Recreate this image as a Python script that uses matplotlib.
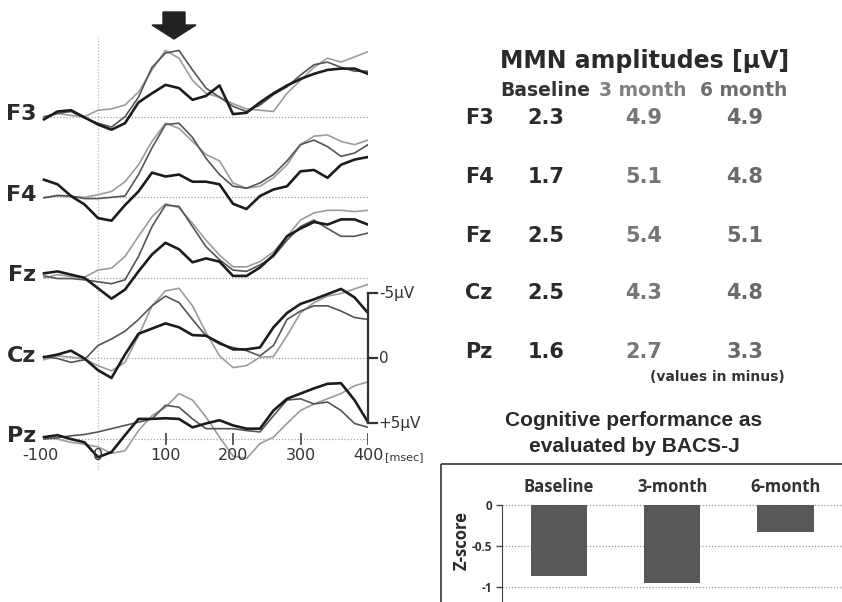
import matplotlib
matplotlib.use("Agg")
import matplotlib.pyplot as plt
from matplotlib.patches import Polygon, Rectangle
from matplotlib.transforms import Affine2D

W, H = 842, 602

# sample times of the averaged waveforms (ms)
times = [-80, -60, -40, -20, 0, 20, 40, 60, 80, 100, 120, 140, 160,
         180, 200, 220, 240, 260, 280, 300, 320, 340, 360, 380, 400]
channels = ["F3", "F4", "Fz", "Cz", "Pz"]

# difference waveforms in µV (negative = MMN, drawn upward)
f3_base = [0.2, -0.4, -0.5, 0.05, 0.6, 1.0, 0.5, -1.1, -1.8, -2.45, -2.2, -1.3, -1.6,
           -2.4, -0.2, -0.3, -1.1, -1.8, -2.4, -2.9, -3.3, -3.6, -3.7, -3.7, -3.3]
f3_m3 = [0.1, -0.25, -0.1, 0.0, -0.5, -0.6, -0.9, -1.9, -3.6, -5.1, -4.5, -2.8, -1.8,
         -1.5, -1.0, -0.6, -0.5, -0.4, -1.8, -2.8, -3.8, -4.5, -4.2, -4.6, -5.0]
f3_m6 = [0.0, -0.25, -0.4, 0.1, 0.5, 0.8, 0.0, -1.5, -3.8, -4.9, -5.1, -3.6, -2.2,
         -1.5, -0.8, -0.4, -0.9, -1.7, -2.3, -3.2, -4.0, -4.2, -3.8, -3.5, -3.5]

f4_base = [-1.35, -1.0, -0.1, 0.55, 1.6, 1.8, 0.6, -0.45, -1.9, -1.6, -1.75, -1.2, -1.2,
           -1.0, 0.5, 0.9, -0.1, -0.6, -0.85, -2.0, -2.1, -1.5, -2.5, -2.9, -3.1]
f4_m3 = [0.0, -0.1, -0.05, 0.0, -0.2, -0.45, -1.2, -2.5, -4.3, -5.7, -5.3, -4.3, -3.3,
         -2.8, -1.1, -0.7, -0.85, -1.5, -2.5, -4.05, -4.7, -4.8, -4.3, -4.05, -4.4]
f4_m6 = [0.05, -0.15, -0.1, 0.1, 0.1, 0.0, -0.1, -1.75, -3.8, -5.6, -5.7, -4.6, -3.0,
         -1.75, -0.85, -0.7, -1.1, -1.75, -2.8, -4.05, -4.4, -3.9, -3.15, -3.4, -4.05]

fz_base = [-0.35, -0.5, -0.25, 0.0, 0.8, 1.6, 0.9, -0.5, -1.8, -2.7, -2.2, -1.2, -1.5,
           -1.25, -0.15, -0.15, -0.8, -1.75, -3.2, -3.8, -4.3, -4.1, -4.5, -4.5, -4.1]
fz_m3 = [0.0, -0.25, -0.1, -0.05, -0.6, -0.75, -1.65, -3.2, -4.7, -5.7, -5.4, -4.2, -2.9,
         -1.75, -0.85, -0.85, -1.25, -2.0, -3.2, -4.45, -5.0, -5.2, -5.2, -5.1, -5.2]
fz_m6 = [-0.15, 0.05, 0.05, 0.15, 0.3, 0.45, 0.15, -1.65, -3.95, -5.6, -5.5, -3.95, -2.4,
         -1.4, -0.6, -0.5, -1.0, -1.65, -2.9, -3.95, -4.45, -3.8, -3.2, -3.2, -3.45]

cz_base = [-0.1, -0.3, -0.6, 0.0, 0.9, 1.5, -0.3, -1.9, -2.3, -2.7, -2.4, -1.8, -1.75,
           -1.2, -0.7, -0.7, -0.85, -2.4, -3.5, -4.2, -4.55, -4.95, -5.35, -4.7, -3.5]
cz_m3 = [0.1, -0.2, -0.1, 0.05, 0.55, 0.95, 0.3, -1.75, -4.05, -5.2, -5.4, -4.05, -2.0,
         -0.2, 0.7, 0.55, -0.1, -0.15, -1.75, -3.5, -4.3, -4.8, -5.0, -5.35, -5.7]
cz_m6 = [-0.15, 0.0, 0.3, 0.1, -1.0, -1.5, -2.1, -3.0, -4.05, -4.8, -4.3, -3.0, -1.75,
         -1.1, -0.85, -0.6, -0.2, -1.0, -3.0, -3.65, -4.05, -4.05, -3.65, -3.15, -3.0]

pz_base = [-0.15, -0.3, 0.0, 0.25, 1.4, 1.0, -0.3, -1.55, -1.55, -1.6, -1.55, -0.9, -1.2,
           -1.45, -1.05, -0.8, -0.8, -2.2, -3.1, -3.5, -3.9, -4.25, -4.3, -3.0, -1.3]
pz_m3 = [-0.15, 0.0, 0.25, 0.4, 0.6, 1.1, 0.9, -0.65, -1.8, -2.45, -3.5, -3.0, -1.7,
         -0.15, 1.3, 1.5, 0.35, -0.15, -1.2, -2.2, -2.7, -3.1, -3.5, -4.1, -4.4]
pz_m6 = [0.0, -0.1, -0.25, -0.35, -0.55, -0.8, -1.05, -1.3, -1.55, -2.6, -2.45, -1.55, -0.8,
         -0.8, -0.8, -0.65, -0.55, -1.8, -3.0, -3.1, -2.7, -2.85, -2.2, -1.2, -0.9]

# MMN amplitude table (values in minus)
mmn_base = ["2.3", "1.7", "2.5", "2.5", "1.6"]
mmn_3m = ["4.9", "5.1", "5.4", "4.3", "2.7"]
mmn_6m = ["4.9", "4.8", "5.1", "4.8", "3.3"]

# BACS-J composite z-scores
bacs_labels = ["Baseline", "3-month", "6-month"]
bacs_z = [-0.87, -0.95, -0.335]

eeg = [(f3_base, f3_m3, f3_m6), (f4_base, f4_m3, f4_m6), (fz_base, fz_m3, fz_m6),
       (cz_base, cz_m3, cz_m6), (pz_base, pz_m3, pz_m6)]

fig = plt.figure(figsize=(W / 100, H / 100), dpi=100)
# pixel coordinates, origin top-left
px = Affine2D().scale(1 / W, -1 / H).translate(0, 1) + fig.transFigure

# ---- ERP traces ----
ax = fig.add_axes([30.5 / W, (H - 470) / H, 337.5 / W, 450 / H])
ax.set_xlim(-100, 400)
ax.set_ylim(-27.18, 7.44)
ax.axis("off")
step = 6.2
dark = "#2a2a2a"

ax.axvline(0, ymin=0, ymax=(470 - 38) / 450, color="#b5b5b5", ls=(0, (1, 1.5)), lw=0.9)
for i, (name, (base, m3, m6)) in enumerate(zip(channels, eeg)):
    off = -i * step
    ax.plot([-80, 400], [off, off], color="#a0a0a0", ls=(0, (1, 1.5)), lw=0.9)
    ax.plot(times, [off - v for v in m3], color="#9c9c9c", lw=1.2)
    ax.plot(times, [off - v for v in m6], color="#555555", lw=1.2)
    ax.plot(times, [off - v for v in base], color="#1c1c1c", lw=1.9)
    ax.text(-91, off + 0.2, name, ha="right", va="center", fontsize=16,
            fontweight="bold", color=dark, clip_on=False)

# calibration bar at Cz
cz_off = -3 * step
ax.plot([400, 400], [cz_off + 5, cz_off - 5], color="#333333", lw=1.6, clip_on=False)
for lvl, lab in [(5, "-5µV"), (0, "0"), (-5, "+5µV")]:
    ax.plot([400, 413], [cz_off + lvl] * 2, color="#333333", lw=1.6, clip_on=False)
    ax.text(416, cz_off + lvl, lab, ha="left", va="center", fontsize=11,
            color="#333333", clip_on=False)

# time axis along Pz
pz_off = -4 * step
ax.vlines([100, 200, 300, 400], pz_off - 0.45, pz_off + 0.45, color="#333333", lw=1.1)
for t, lab in [(-86, "-100"), (0, "0"), (100, "100"), (200, "200"), (300, "300"), (400, "400")]:
    ax.text(t, -26.1, lab, ha="center", va="center", fontsize=11.5, color="#333333", clip_on=False)
ax.text(425, -26.2, "[msec]", ha="left", va="center", fontsize=8, color="#333333", clip_on=False)

# arrow marking the MMN peak
fig.add_artist(Polygon([(163, 12), (185, 12), (185, 25), (196, 25), (174, 39), (152, 25), (163, 25)],
                       closed=True, transform=px, color="#222222"))

# ---- MMN amplitude table ----
fig.text(645, 61, "MMN amplitudes [µV]", transform=px, ha="center", va="center",
         fontsize=17, fontweight="bold", color=dark)
fig.text(500, 90, "Baseline", transform=px, ha="left", va="center",
         fontsize=13.5, fontweight="bold", color="#333333")
fig.text(599, 90, "3 month", transform=px, ha="left", va="center",
         fontsize=13.5, fontweight="bold", color="#808080")
fig.text(700, 90, "6 month", transform=px, ha="left", va="center",
         fontsize=13.5, fontweight="bold", color="#6e6e6e")
row_y = [118, 177, 236, 293, 352]
for y, name, b, m3, m6 in zip(row_y, channels, mmn_base, mmn_3m, mmn_6m):
    fig.text(465, y, name, transform=px, ha="left", va="center", fontsize=15,
             fontweight="bold", color=dark)
    fig.text(546, y, b, transform=px, ha="center", va="center", fontsize=15,
             fontweight="bold", color=dark)
    fig.text(644, y, m3, transform=px, ha="center", va="center", fontsize=15,
             fontweight="bold", color="#767676")
    fig.text(745, y, m6, transform=px, ha="center", va="center", fontsize=15,
             fontweight="bold", color="#6a6a6a")
fig.text(785, 377, "(values in minus)", transform=px, ha="right", va="center",
         fontsize=10, fontweight="bold", color="#333333")

# ---- BACS-J bar chart ----
fig.text(634, 421, "Cognitive performance as", transform=px, ha="center", va="center",
         fontsize=15, fontweight="bold", family="Liberation Sans", color=dark)
fig.text(634, 446, "evaluated by BACS-J", transform=px, ha="center", va="center",
         fontsize=15, fontweight="bold", family="Liberation Sans", color=dark)
fig.add_artist(Rectangle((441, 464), 500, 300, transform=px, fill=False,
                         edgecolor="#444444", lw=1.3))

bx = fig.add_axes([502 / W, 0, (W - 502) / W, 102 / H])
bx.set_xlim(-0.503, 2.5)
bx.set_ylim(-1.183, 0.061)
bx.bar(range(len(bacs_z)), bacs_z, width=0.5, color="#585858", zorder=3)
bx.set_yticks([0, -0.5, -1], labels=["0", "-0.5", "-1"])
bx.grid(axis="y", color="#9a9a9a", ls=(0, (1, 1.5)), lw=0.9)
bx.set_xticks(range(len(bacs_labels)), labels=bacs_labels)
bx.xaxis.tick_top()
bx.tick_params(axis="x", length=0, pad=3)
bx.tick_params(axis="y", length=4, width=1, pad=3, color="#444444")
for lab in bx.get_xticklabels():
    lab.set_fontfamily("Open Sans")
    lab.set_fontweight("bold")
    lab.set_fontsize(12)
    lab.set_color("#333333")
for lab in bx.get_yticklabels():
    lab.set_fontfamily("Open Sans")
    lab.set_fontweight("bold")
    lab.set_fontsize(8.5)
    lab.set_color("#333333")
for s in ["top", "right", "bottom"]:
    bx.spines[s].set_visible(False)
bx.spines["left"].set_bounds(-1.2, 0)
bx.spines["left"].set_color("#444444")
fig.text(462, 540, "Z-score", transform=px, ha="center", va="center", rotation=90,
         fontsize=12, fontweight="bold", family="Open Sans", color=dark)

fig.savefig("out.png", dpi=100)
